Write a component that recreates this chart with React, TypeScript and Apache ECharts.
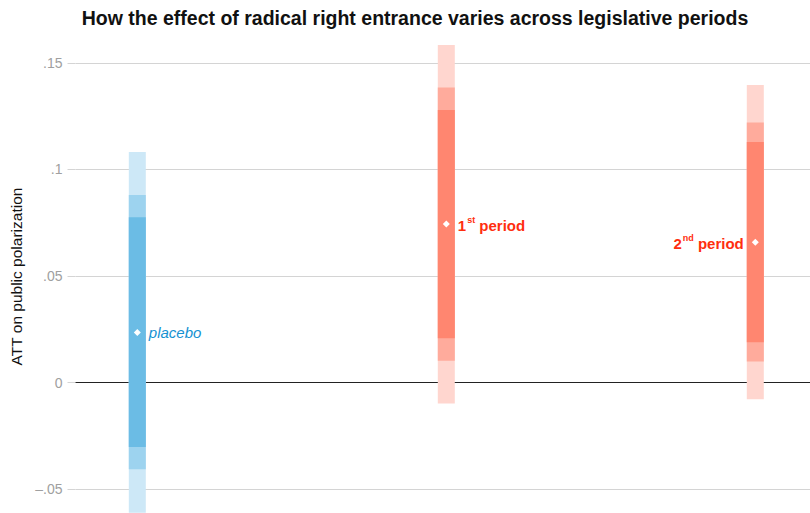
import React, { useEffect, useRef } from "react";
import * as echarts from "echarts";

// Estimates of the average treatment effect by period, with three nested
// confidence bands (widest to narrowest).
const categories = ["placebo", "1st period", "2nd period"];
const positions = [1, 2, 3];
const estimates = [0.0235, 0.0744, 0.0659];
const outerLow = [-0.061, -0.0097, -0.0078];
const outerHigh = [0.1082, 0.1584, 0.1396];
const midLow = [-0.0406, 0.0103, 0.0099];
const midHigh = [0.088, 0.1384, 0.122];
const innerLow = [-0.0302, 0.0208, 0.019];
const innerHigh = [0.0776, 0.1279, 0.1129];

const yTicks = [-0.05, 0, 0.05, 0.1, 0.15];

const blueShades = ["#cde8f7", "#9dd3ef", "#6bbce5"];
const redShades = ["#ffd6cf", "#ffab9c", "#ff8670"];
const blueText = "#1592d2";
const redText = "#ff2e0e";
const FONT = "Liberation Sans, Arial, sans-serif";

function tickLabel(v: number): string {
  if (Math.abs(v) < 1e-9) return "0";
  const s = Math.abs(v).toFixed(2).replace(/0+$/, "").replace(/^0/, "");
  return (v < 0 ? "\u2013" : "") + s;
}

export default function App() {
  const ref = useRef<HTMLDivElement>(null);

  useEffect(() => {
    if (!ref.current) return;
    const chart = echarts.init(ref.current, undefined, { renderer: "svg" });

    const bandData = positions.map((x, i) => [
      x,
      outerLow[i],
      outerHigh[i],
      midLow[i],
      midHigh[i],
      innerLow[i],
      innerHigh[i],
    ]);

    const pointData = positions.map((x, i) => {
      const isPlacebo = categories[i] === "placebo";
      const onLeft = i === 2;
      const ord = i === 1 ? "st" : "nd";
      const color = isPlacebo ? blueText : redText;
      return {
        name: categories[i],
        value: [x, estimates[i]],
        label: {
          show: true,
          position: onLeft ? "left" : "right",
          distance: 8,
          color,
          opacity: 1,
          textBorderWidth: 0,
          formatter: isPlacebo
            ? "{pl|placebo}"
            : `{n|${i}}{sup|${ord}}{n| period}`,
          rich: {
            pl: {
              color: blueText,
              fontStyle: "italic",
              fontSize: 15,
              fontFamily: FONT,
            },
            n: {
              color: redText,
              fontWeight: "bold",
              fontSize: 15,
              fontFamily: FONT,
              lineHeight: 17,
              verticalAlign: "bottom",
            },
            sup: {
              color: redText,
              fontWeight: "bold",
              fontSize: 9,
              fontFamily: FONT,
              lineHeight: 17,
              verticalAlign: "top",
              padding: [0, 0, 0, 1],
            },
          },
        },
      };
    });

    // Reference lines: light grid at each tick, dark line at zero.
    const gridLines = yTicks.map((v) => ({
      yAxis: v,
      lineStyle: {
        color: v === 0 ? "#222" : "#d4d4d4",
        width: 1,
        type: "solid",
      },
    }));

    const gridLeft = 75.5;

    chart.setOption({
      animation: false,
      backgroundColor: "#ffffff",
      graphic: [
        {
          type: "text",
          x: 415,
          y: 18,
          style: {
            text: "How the effect of radical right entrance varies across legislative periods",
            fill: "#111",
            font: "bold 19.5px 'Liberation Sans', Arial, sans-serif",
            align: "center",
            verticalAlign: "middle",
          },
        },
      ],
      grid: {
        left: gridLeft,
        right: 0,
        top: 40,
        bottom: 0,
        containLabel: false,
      },
      xAxis: {
        type: "value",
        min: 0.8,
        max: 0.8 + (810 - gridLeft) / 309,
        show: false,
        splitLine: { show: false },
      },
      yAxis: {
        type: "value",
        min: -0.0611,
        max: 0.1607,
        name: "ATT on public polarization",
        nameLocation: "middle",
        nameGap: 42,
        nameTextStyle: {
          color: "#111",
          fontSize: 15.5,
          fontFamily: FONT,
        },
        axisLine: { show: false },
        axisTick: {
          show: true,
          length: 8,
          lineStyle: { color: "#d4d4d4" },
          customValues: yTicks,
        },
        axisLabel: {
          color: "#a0a0a0",
          fontSize: 14,
          margin: 13,
          fontFamily: FONT,
          customValues: yTicks,
          formatter: (v: number) => tickLabel(v),
        },
        splitLine: { show: false },
      },
      series: [
        {
          type: "custom",
          name: "bands",
          data: bandData,
          encode: { x: 0, y: [1, 2, 3, 4, 5, 6] },
          clip: false,
          renderItem: (params: any, api: any) => {
            const x = api.value(0);
            const idx = params.dataIndex;
            const shades = idx === 0 ? blueShades : redShades;
            const w = 17;
            const cx = api.coord([x, 0])[0];
            const children: any[] = [];
            for (let k = 0; k < 3; k++) {
              const lo = api.coord([x, api.value(1 + k * 2)])[1];
              const hi = api.coord([x, api.value(2 + k * 2)])[1];
              children.push({
                type: "rect",
                shape: { x: cx - w / 2, y: hi, width: w, height: lo - hi },
                style: { fill: shades[k] },
              });
            }
            return { type: "group", children };
          },
          markLine: {
            silent: true,
            symbol: "none",
            label: { show: false },
            data: gridLines,
            z: 1,
          },
          z: 2,
        },
        {
          type: "scatter",
          name: "estimate",
          data: pointData,
          symbol: "diamond",
          symbolSize: 7,
          itemStyle: { color: "#ffffff", opacity: 1 },
          z: 5,
        },
      ],
    });

    return () => chart.dispose();
  }, []);

  return (
    <div
      ref={ref}
      style={{ position: "fixed", left: 0, top: 0, width: 810, height: 513 }}
    />
  );
}
